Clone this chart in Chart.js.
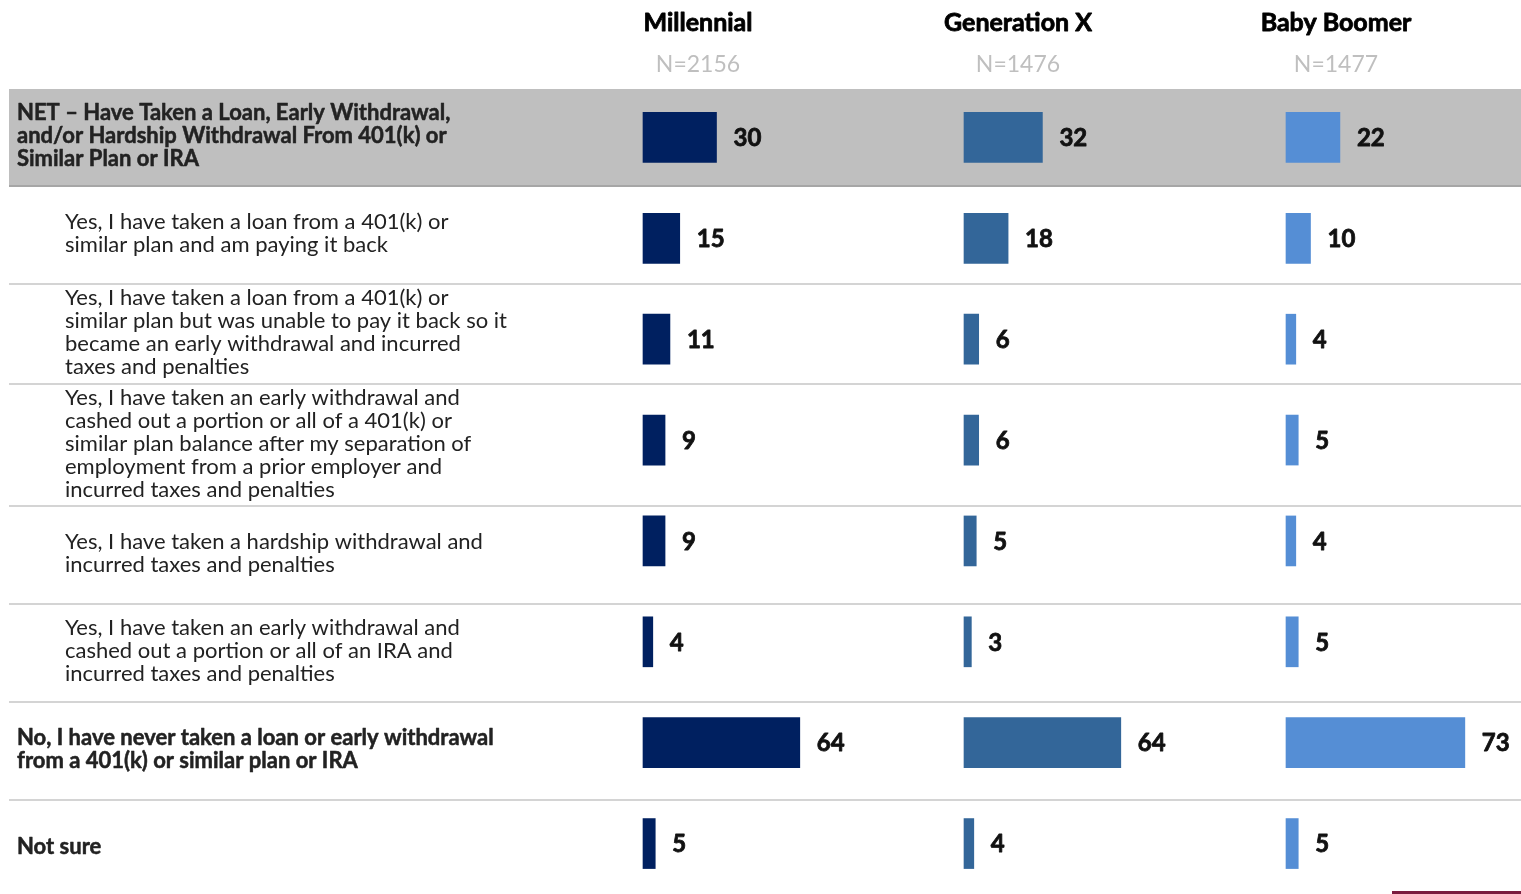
<!DOCTYPE html>
<html>
<head>
<meta charset="utf-8">
<script src="https://cdn.jsdelivr.net/npm/chart.js@4"></script>
<style>
  html, body { margin: 0; padding: 0; background: #fff; }
</style>
</head>
<body>
<canvas id="genChart" width="1521" height="894"></canvas>
<script>
// row labels (pre-wrapped lines)
const categories = [
  ['NET \u2013 Have Taken a Loan, Early Withdrawal,', 'and/or Hardship Withdrawal From 401(k) or', 'Similar Plan or IRA'],
  ['Yes, I have taken a loan from a 401(k) or', 'similar plan and am paying it back'],
  ['Yes, I have taken a loan from a 401(k) or', 'similar plan but was unable to pay it back so it', 'became an early withdrawal and incurred', 'taxes and penalties'],
  ['Yes, I have taken an early withdrawal and', 'cashed out a portion or all of a 401(k) or', 'similar plan balance after my separation of', 'employment from a prior employer and', 'incurred taxes and penalties'],
  ['Yes, I have taken a hardship withdrawal and', 'incurred taxes and penalties'],
  ['Yes, I have taken an early withdrawal and', 'cashed out a portion or all of an IRA and', 'incurred taxes and penalties'],
  ['No, I have never taken a loan or early withdrawal', 'from a 401(k) or similar plan or IRA'],
  ['Not sure']
];
const boldRows = [true, false, false, false, false, false, true, true];

const generations = ['Millennial', 'Generation X', 'Baby Boomer'];
const sampleSizes = ['N=2156', 'N=1476', 'N=1477'];

const millennial = [30, 15, 11, 9, 9, 4, 64, 5];
const genX = [32, 18, 6, 6, 5, 3, 64, 4];
const boomer = [22, 10, 4, 5, 4, 5, 73, 5];

const colors = ['#002060', '#336699', '#558ed5'];

// layout
const W = 1521, LEFT = 10;
const PX_PER_UNIT = 2.45;
const zeroPx = [643, 964, 1286];
const colCenters = [698, 1018, 1336];
const rowTextTop = [113, 222, 298, 398, 542, 628, 738, 847];
const separators = [284, 384, 506, 604, 702, 800];
const FONT = 'Lato, "Open Sans", sans-serif';

function axisFor(i) {
  return {
    type: 'linear',
    display: false,
    min: -(zeroPx[i] - LEFT) / PX_PER_UNIT,
    max: (W - zeroPx[i]) / PX_PER_UNIT
  };
}

// draw text, with a thin stroke to make bold heavier (closer to Calibri bold)
function heavyText(c, txt, x, y, w) {
  c.lineWidth = w;
  c.strokeStyle = c.fillStyle;
  c.strokeText(txt, x, y);
  c.fillText(txt, x, y);
}

const tableDecor = {
  id: 'tableDecor',
  beforeDraw(chart) {
    const c = chart.ctx;
    c.save();
    c.fillStyle = '#fff';
    c.fillRect(0, 0, chart.width, chart.height);
    // NET band
    c.fillStyle = '#bfbfbf';
    c.fillRect(9, 89, W - 9, 97);
    c.fillStyle = '#a6a6a6';
    c.fillRect(9, 185, W - 9, 2);
    c.fillStyle = '#d4d4d4';
    separators.forEach(y => c.fillRect(9, y - 1, W - 9, 2));
    // little accent bottom right
    c.fillStyle = '#7a1c3e';
    c.fillRect(1392, 891, W - 1392, 3);
    c.restore();
  },
  afterDatasetsDraw(chart) {
    const c = chart.ctx;
    c.save();
    c.lineJoin = 'round';
    // headers
    c.textAlign = 'center';
    c.textBaseline = 'middle';
    generations.forEach((g, i) => {
      c.fillStyle = '#000';
      c.font = 'bold 25px ' + FONT;
      heavyText(c, g, colCenters[i], 23, 0.8);
      c.fillStyle = '#bfbfbf';
      c.font = '23px ' + FONT;
      c.fillText(sampleSizes[i], colCenters[i], 65);
    });
    // row labels
    c.textAlign = 'left';
    c.fillStyle = '#222';
    chart.data.labels.forEach((lines, r) => {
      c.font = (boldRows[r] ? 'bold ' : '') + '22px ' + FONT;
      const x = boldRows[r] ? 17 : 65;
      lines.forEach((ln, k) => {
        if (boldRows[r]) heavyText(c, ln, x, rowTextTop[r] + k * 23, 0.5);
        else c.fillText(ln, x, rowTextTop[r] + k * 23);
      });
    });
    // value labels
    c.fillStyle = '#111';
    c.font = 'bold 24px ' + FONT;
    chart.data.datasets.forEach((ds, d) => {
      chart.getDatasetMeta(d).data.forEach((bar, j) => {
        heavyText(c, String(ds.data[j]), bar.x + 17, bar.y + 1, 0.8);
      });
    });
    c.restore();
  }
};

new Chart(document.getElementById('genChart'), {
  type: 'bar',
  data: {
    labels: categories,
    datasets: [
      { label: generations[0], data: millennial, backgroundColor: colors[0], xAxisID: 'x0' },
      { label: generations[1], data: genX, backgroundColor: colors[1], xAxisID: 'x1' },
      { label: generations[2], data: boomer, backgroundColor: colors[2], xAxisID: 'x2' }
    ]
  },
  options: {
    indexAxis: 'y',
    responsive: false,
    animation: false,
    layout: { padding: { top: 87, left: LEFT, right: 0, bottom: 0 } },
    datasets: { bar: { grouped: false, barThickness: 50 } },
    plugins: { legend: { display: false }, tooltip: { enabled: false } },
    scales: {
      y: { display: false },
      x0: axisFor(0),
      x1: axisFor(1),
      x2: axisFor(2)
    }
  },
  plugins: [tableDecor]
});
</script>
</body>
</html>
